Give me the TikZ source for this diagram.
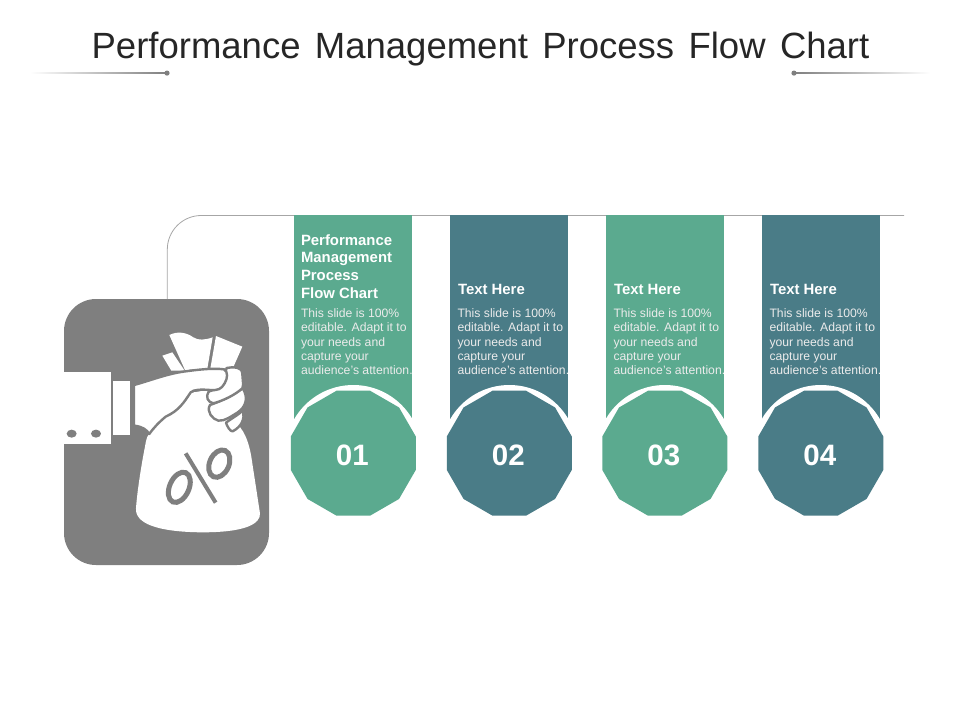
\documentclass[tikz,border=0pt]{standalone}
\usepackage{fontspec}
\setmainfont{Liberation Sans}
\usetikzlibrary{shapes.geometric}
\definecolor{mygreen}{HTML}{5BAA8F}
\definecolor{myteal}{HTML}{4A7C87}
\definecolor{mygray}{HTML}{7F7F7F}
\definecolor{mytitle}{HTML}{262626}
\tikzset{
  bandbox/.style={minimum width=118pt,minimum height=210pt,inner sep=0pt,outer sep=0pt,anchor=north west},
  ringdisc/.style={circle,fill=white,minimum size=136.4pt,inner sep=0pt,outer sep=0pt},
  badge/.style={regular polygon,regular polygon sides=12,minimum size=129.4pt,inner sep=0pt,outer sep=0pt},
  numtxt/.style={inner sep=0pt,outer sep=0pt,text=white,font=\fontsize{29.5}{30}\selectfont\bfseries,xshift=-1pt,yshift=-2pt},
  headtxt/.style={anchor=north west,inner sep=0pt,outer sep=0pt,text=white,align=left,
    font=\fontsize{14.9}{17.6}\selectfont\bfseries},
  bodytxt/.style={anchor=north west,inner sep=0pt,outer sep=0pt,text=white!92!black,align=left,
    font=\fontsize{12.2}{14.4}\selectfont},
  icongap/.style={draw=mygray,line width=2.4pt,line join=round},
}
\begin{document}
\begin{tikzpicture}[x=1pt,y=-1pt]
\useasboundingbox (0,0) rectangle (960,720);
% title
\node[text=mytitle,inner sep=0pt,font=\fontsize{36.5}{40}\selectfont] (title) at (480.5,49) {\spaceskip=14.4pt Performance Management Process Flow Chart};
\shade[left color=white,right color=mygray] (30,72.7) rectangle (167,73.5);
\shade[left color=mygray,right color=white] (794,72.7) rectangle (930,73.5);
\fill[mygray] (167,73.1) circle (2.6);
\fill[mygray] (794,73.1) circle (2.6);
% tile and connector
\node[fill=mygray,rounded corners=32pt,minimum width=205pt,minimum height=266pt,inner sep=0pt,outer sep=0pt] (tile) at (166.5,432) {};
\coordinate (lineend) at (904,215.5);
\draw[draw=gray!70,line width=0.8pt,rounded corners=34pt] (tile.north) ++(0.8,0) |- (lineend);
% bands
\node[bandbox,fill=mygreen] (b1) at (294,215) {};
\node[bandbox,fill=myteal] (b2) at (450,215) {};
\node[bandbox,fill=mygreen] (b3) at (606,215) {};
\node[bandbox,fill=myteal] (b4) at (762,215) {};
% texts
\node[headtxt] (h1) at (301,234.5) {Performance\\Management\\Process\\Flow Chart};
\node[headtxt] (h2) at (458,284.5) {Text Here};
\node[headtxt] (h3) at (614,284.5) {Text Here};
\node[headtxt] (h4) at (770,284.5) {Text Here};
\node[bodytxt] (t1) at (301,308.5) {This slide is 100\%\\editable. Adapt it to\\your needs and\\capture your\\audience's attention.};
\node[bodytxt] (t2) at (457.5,308.5) {This slide is 100\%\\editable. Adapt it to\\your needs and\\capture your\\audience's attention.};
\node[bodytxt] (t3) at (613.5,308.5) {This slide is 100\%\\editable. Adapt it to\\your needs and\\capture your\\audience's attention.};
\node[bodytxt] (t4) at (769.5,308.5) {This slide is 100\%\\editable. Adapt it to\\your needs and\\capture your\\audience's attention.};
% badges
\node[ringdisc] (r1) at (353.3,453.2) {};
\node[ringdisc] (r2) at (509.3,453.2) {};
\node[ringdisc] (r3) at (664.8,453.2) {};
\node[ringdisc] (r4) at (820.8,453.2) {};
\node[badge,fill=mygreen] (n1) at (r1) {};
\node[badge,fill=myteal] (n2) at (r2) {};
\node[badge,fill=mygreen] (n3) at (r3) {};
\node[badge,fill=myteal] (n4) at (r4) {};
\node[numtxt] (l1) at (n1) {01};
\node[numtxt] (l2) at (n2) {02};
\node[numtxt] (l3) at (n3) {03};
\node[numtxt] (l4) at (n4) {04};
% icon, in the coordinates of the enlarged crop
\begin{scope}[shift={(50,290)},x=0.3333pt,y=-0.3333pt]
  % cuff and band
  \fill[white] (42,245) rectangle (184,462);
  \fill[mygray] (65,431) ellipse (15 and 12);
  \fill[mygray] (138,431) ellipse (15 and 12);
  \fill[white] (190,273) rectangle (240,436);
  % notes
  \fill[white] (337,197) -- (367,187) -- (404,242) -- (364,242) -- cycle;
  \fill[white] (358,135) .. controls (385,122) and (410,128) .. (430,142) .. controls (445,152) and (465,150) .. (488,142) -- (472,236) -- (405,240) -- cycle;
  \fill[white] (498,138) -- (577,170) -- (548,236) -- (481,236) -- cycle;
  % bag
  \fill[white] (296,434) -- (340,382) .. controls (375,365) and (400,350) .. (425,308) -- (475,300) -- (560,400) .. controls (590,430) and (600,470) .. (607,520)
     -- (630,670) .. controls (632,700) and (590,728) .. (450,727) .. controls (320,725) and (255,700) .. (258,655)
     .. controls (262,600) and (275,520) .. (285,470) .. controls (288,452) and (290,442) .. (296,434) -- cycle;
  % fingers
  \filldraw[icongap,fill=white] (528,398) .. controls (545,385) and (565,375) .. (578,362) .. controls (586,385) and (575,410) .. (548,424) .. controls (540,424) and (532,410) .. (528,398) -- cycle;
  \filldraw[icongap,fill=white] (480,345) .. controls (510,335) and (550,315) .. (578,295) .. controls (595,320) and (590,350) .. (562,368) .. controls (545,378) and (525,394) .. (505,392) .. controls (488,388) and (468,365) .. (480,345) -- cycle;
  \filldraw[icongap,fill=white] (530,234) .. controls (550,230) and (575,230) .. (577,250) .. controls (577,265) and (582,285) .. (577,295) .. controls (555,315) and (520,332) .. (490,340) .. controls (473,337) and (466,320) .. (476,305) -- (515,290) -- cycle;
  % hand
  \filldraw[icongap,fill=white] (252,285) .. controls (300,272) and (350,252) .. (400,245) .. controls (450,238) and (490,234) .. (522,238) .. controls (535,245) and (533,265) .. (524,280) .. controls (514,297) and (505,302) .. (480,300)
     .. controls (455,298) and (432,298) .. (422,307) .. controls (402,337) and (387,362) .. (347,380) .. controls (327,397) and (312,412) .. (298,432) .. controls (290,420) and (280,410) .. (252,407) -- cycle;
  % percent sign
  \draw[mygray,line width=5pt,rotate around={-24:(388,592)}] (388,592) ellipse (29 and 48);
  \draw[mygray,line width=5pt,rotate around={-24:(508,521)}] (508,521) ellipse (29 and 43);
  \draw[mygray,line width=4pt] (407,490) -- (497,638);
\end{scope}
\end{tikzpicture}
\end{document}
